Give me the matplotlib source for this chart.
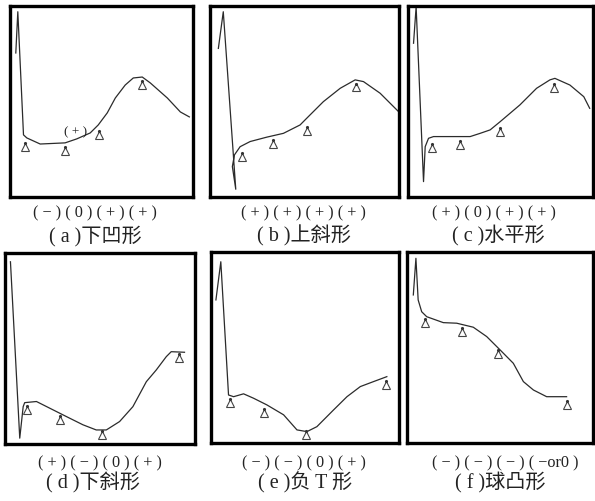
import matplotlib.pyplot as plt

plt.rcParams['font.family'] = ['Liberation Serif', 'Noto Sans CJK SC', 'DejaVu Sans']

# curves, in percent of each panel's width / height
a_x = [3.1, 4.2, 7.3, 9.1, 16.4, 30.0, 36.4, 43.7, 48.1, 53.0, 57.4, 62.8, 67.2, 72.1, 76.5, 85.8, 92.9, 97.8]
a_y = [75.4, 97.0, 32.5, 30.9, 27.7, 28.3, 30.4, 33.5, 37.7, 44.0, 51.8, 58.6, 62.3, 62.8, 59.7, 51.8, 44.5, 41.9]
a_tx = [8.2, 29.7, 48.3, 72.0]
a_ty = [26.2, 24.1, 32.5, 58.6]

b_x = [4.4, 7.0, 13.6, 11.8, 12.9, 15.9, 21.2, 30.0, 38.8, 47.6, 51.1, 59.9, 68.8, 76.7, 81.1, 89.9, 99.6]
b_y = [77.8, 97.0, 4.0, 15.9, 22.0, 26.3, 29.0, 31.3, 33.3, 37.7, 41.2, 49.9, 56.9, 61.3, 60.4, 54.3, 44.7]
b_tx = [16.8, 33.5, 51.5, 77.4]
b_ty = [20.8, 27.7, 34.7, 57.4]

c_x = [2.9, 4.3, 8.3, 9.2, 11.0, 13.7, 33.5, 38.9, 44.3, 49.7, 60.4, 69.4, 76.6, 79.3, 87.4, 94.9, 98.1]
c_y = [80.5, 99.6, 8.0, 26.3, 30.7, 31.6, 31.6, 33.3, 35.1, 39.4, 48.2, 56.9, 61.3, 62.1, 58.6, 52.5, 46.4]
c_tx = [13.0, 28.0, 49.7, 78.9]
c_ty = [25.5, 27.2, 34.2, 56.9]

d_x = [3.0, 7.9, 9.7, 10.5, 16.7, 23.7, 32.5, 41.2, 48.2, 53.5, 60.5, 67.5, 74.6, 79.8, 85.1, 87.7, 94.7]
d_y = [95.4, 3.0, 19.5, 21.6, 22.2, 18.7, 14.3, 10.0, 7.3, 7.3, 11.7, 19.5, 32.6, 38.7, 45.7, 48.3, 48.0]
d_tx = [11.7, 29.3, 51.4, 91.6]
d_ty = [17.8, 12.6, 4.7, 44.9]

e_x = [2.5, 5.1, 9.2, 11.9, 17.2, 22.5, 29.6, 38.5, 45.6, 50.9, 56.2, 65.1, 72.2, 79.3, 86.3, 93.4]
e_y = [74.9, 94.9, 25.1, 24.2, 25.7, 23.4, 19.9, 14.7, 6.8, 5.9, 8.5, 17.3, 24.2, 29.5, 32.1, 34.7]
e_tx = [10.1, 28.2, 50.5, 93.1]
e_ty = [21.1, 15.9, 4.0, 30.4]

f_x = [3.4, 4.8, 6.0, 7.9, 10.6, 19.5, 26.7, 35.6, 42.8, 50.0, 57.1, 62.5, 67.9, 75.0, 85.7]
f_y = [77.5, 96.7, 74.9, 68.7, 66.1, 63.0, 62.7, 60.6, 55.7, 48.7, 41.7, 32.1, 27.7, 24.2, 24.2]
f_tx = [9.7, 29.3, 49.0, 86.0]
f_ty = [63.0, 58.3, 46.4, 19.9]

signs = ['( − ) ( 0 ) ( + ) ( + )', '( + ) ( + ) ( + ) ( + )', '( + ) ( 0 ) ( + ) ( + )',
         '( + ) ( − ) ( 0 ) ( + )', '( − ) ( − ) ( 0 ) ( + )', '( − ) ( − ) ( − ) ( −or0 )']
captions = ['( a )下凹形', '( b )上斜形', '( c )水平形', '( d )下斜形', '( e )负 T 形', '( f )球凸形']

panels = [(a_x, a_y, a_tx, a_ty), (b_x, b_y, b_tx, b_ty), (c_x, c_y, c_tx, c_ty),
          (d_x, d_y, d_tx, d_ty), (e_x, e_y, e_tx, e_ty), (f_x, f_y, f_tx, f_ty)]

# panel boxes in figure fractions
boxes = [(0.017, 0.607, 0.308, 0.381), (0.353, 0.607, 0.318, 0.381), (0.686, 0.607, 0.311, 0.381),
         (0.008, 0.114, 0.319, 0.381), (0.355, 0.116, 0.316, 0.381), (0.684, 0.116, 0.313, 0.381)]
sign_x = [0.160, 0.510, 0.830, 0.168, 0.510, 0.850]
cap_x = [0.160, 0.510, 0.838, 0.157, 0.512, 0.840]
sign_y = [0.575, 0.575, 0.575, 0.076, 0.076, 0.076]
cap_y = [0.529, 0.529, 0.529, 0.036, 0.036, 0.036]

fig = plt.figure(figsize=(5.95, 5.01), dpi=100)

for i, (x, y, tx, ty) in enumerate(panels):
    ax = fig.add_axes(boxes[i])
    ax.plot(x, y, color='#2b2b2b', lw=0.9)
    ax.plot(tx, ty, linestyle='none', marker='^', ms=6, mfc='white', mec='#444444', mew=0.8)
    ax.plot(tx, [v + 2 for v in ty], linestyle='none', marker='.', ms=2.5, color='#333333')
    ax.set_xlim(0, 100)
    ax.set_ylim(0, 100)
    ax.set_xticks([])
    ax.set_yticks([])
    for s in ax.spines.values():
        s.set_linewidth(2.4)
        s.set_color('black')
    fig.text(sign_x[i], sign_y[i], signs[i], ha='center', va='center', fontsize=11.7, color='#222222')
    fig.text(cap_x[i], cap_y[i], captions[i], ha='center', va='center', fontsize=14.5, color='#222222')
    if i == 0:
        ax.text(35.5, 34, '( + )', fontsize=9.5, ha='center', va='center', color='#222222')

fig.savefig('out.png', dpi=100)
